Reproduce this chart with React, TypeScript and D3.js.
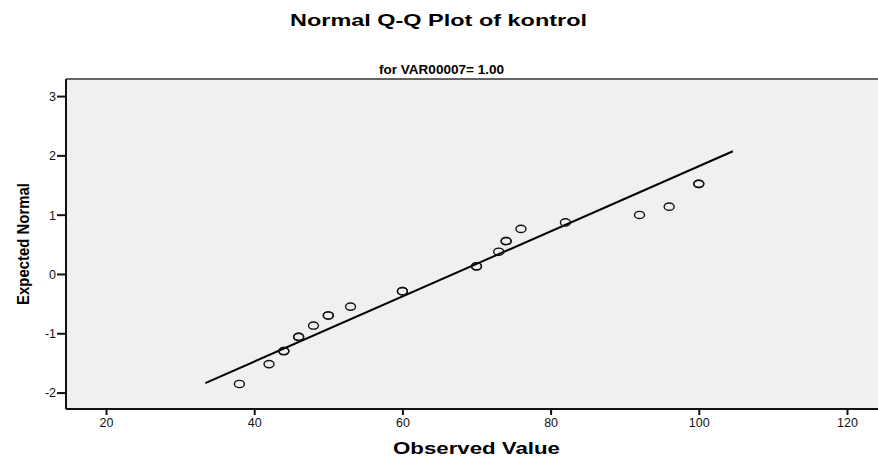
import React, { useEffect, useRef } from 'react';
import * as d3 from 'd3';

// observed values, expected normal, and how many cases sit on that spot
const observed = [38, 42, 44, 46, 48, 50, 53, 60, 70, 73, 74, 76, 82, 92, 96, 100];
const expected = [-1.855, -1.52, -1.3, -1.06, -0.87, -0.7, -0.55, -0.29, 0.13, 0.375, 0.555, 0.76, 0.87, 0.995, 1.135, 1.52];
const counts = [1, 1, 2, 2, 1, 2, 1, 2, 2, 1, 2, 1, 1, 1, 1, 2];

// reference line end points (observed, expected)
const refLineX = [33.4, 104.6];
const refLineY = [-1.84, 2.07];

const xTicks = [20, 40, 60, 80, 100, 120];
const yTicks = [-2, -1, 0, 1, 2, 3];

const App = () => {
  const svgRef = useRef<SVGSVGElement>(null);

  useEffect(() => {
    const width = 878;
    const height = 457;
    const plot = { left: 66, top: 79, right: 887, bottom: 409 };
    const font = '"Liberation Sans", Arial, sans-serif';

    const svg = d3.select(svgRef.current)
      .attr('width', width)
      .attr('height', height);
    svg.selectAll('*').remove();

    svg.append('rect')
      .attr('width', width)
      .attr('height', height)
      .attr('fill', '#ffffff');

    const x = d3.scaleLinear()
      .domain([14.6, 125.4])
      .range([plot.left, plot.right]);

    const y = d3.scaleLinear()
      .domain([3.288, -2.277])
      .range([plot.top, plot.bottom]);

    // plot background
    svg.append('rect')
      .attr('x', plot.left)
      .attr('y', plot.top)
      .attr('width', plot.right - plot.left)
      .attr('height', plot.bottom - plot.top)
      .attr('fill', '#f0f0f0');

    // titles
    svg.append('text')
      .attr('x', 438.5)
      .attr('y', 25.5)
      .attr('text-anchor', 'middle')
      .attr('font-family', font)
      .attr('font-weight', 'bold')
      .attr('font-size', 17)
      .attr('textLength', 297)
      .attr('lengthAdjust', 'spacingAndGlyphs')
      .text('Normal Q-Q Plot of kontrol');

    svg.append('text')
      .attr('x', 441.5)
      .attr('y', 73.5)
      .attr('text-anchor', 'middle')
      .attr('font-family', font)
      .attr('font-weight', 'bold')
      .attr('font-size', 12)
      .attr('textLength', 125)
      .attr('lengthAdjust', 'spacingAndGlyphs')
      .text('for VAR00007= 1.00');

    // axes
    const xAxis = svg.append('g')
      .attr('transform', `translate(0,${plot.bottom})`)
      .call(d3.axisBottom(x).tickValues(xTicks).tickSize(6).tickSizeOuter(0).tickFormat(d => String(d)));

    const yAxis = svg.append('g')
      .attr('transform', `translate(${plot.left},0)`)
      .call(d3.axisLeft(y).tickValues(yTicks).tickSize(9).tickSizeOuter(0).tickFormat(d => String(d)));

    [xAxis, yAxis].forEach(g => {
      g.select('.domain').remove();
      g.selectAll('line').attr('stroke', '#111').attr('stroke-width', 2);
      g.selectAll('text')
        .attr('font-family', font)
        .attr('font-size', 12.5)
        .attr('fill', '#111');
    });
    xAxis.selectAll('text').attr('dy', '1em').attr('y', 5);
    yAxis.selectAll('text').attr('x', -10).attr('dy', '0.35em');

    // frame
    svg.append('line')
      .attr('x1', plot.left).attr('x2', plot.right)
      .attr('y1', plot.top).attr('y2', plot.top)
      .attr('stroke', '#333').attr('stroke-width', 1.5);
    svg.append('line')
      .attr('x1', plot.left).attr('x2', plot.left)
      .attr('y1', plot.top).attr('y2', plot.bottom)
      .attr('stroke', '#111').attr('stroke-width', 2);
    svg.append('line')
      .attr('x1', plot.left).attr('x2', plot.right)
      .attr('y1', plot.bottom).attr('y2', plot.bottom)
      .attr('stroke', '#111').attr('stroke-width', 2);

    // axis titles
    svg.append('text')
      .attr('x', 476.5)
      .attr('y', 453.5)
      .attr('text-anchor', 'middle')
      .attr('font-family', font)
      .attr('font-weight', 'bold')
      .attr('font-size', 16.5)
      .attr('textLength', 167)
      .attr('lengthAdjust', 'spacingAndGlyphs')
      .text('Observed Value');

    svg.append('text')
      .attr('transform', `translate(29,${(plot.top + plot.bottom) / 2}) rotate(-90)`)
      .attr('text-anchor', 'middle')
      .attr('font-family', font)
      .attr('font-weight', 'bold')
      .attr('font-size', 17)
      .attr('textLength', 122)
      .attr('lengthAdjust', 'spacingAndGlyphs')
      .text('Expected Normal');

    // reference line
    const line = d3.line<number>()
      .x(d => x(refLineX[d]))
      .y(d => y(refLineY[d]));

    svg.append('path')
      .datum([0, 1])
      .attr('fill', 'none')
      .attr('stroke', '#000')
      .attr('stroke-width', 2)
      .attr('d', line);

    // points, tied cases drawn on top of each other
    const pts = observed.flatMap((v, i) => d3.range(counts[i]).map(() => ({ v, e: expected[i] })));
    svg.append('g')
      .selectAll('ellipse')
      .data(pts)
      .enter()
      .append('ellipse')
      .attr('cx', d => x(d.v))
      .attr('cy', d => y(d.e))
      .attr('rx', 5)
      .attr('ry', 3.6)
      .attr('fill', 'none')
      .attr('stroke', '#111')
      .attr('stroke-width', 1.4);
  }, []);

  return (
    <svg ref={svgRef} style={{ position: 'absolute', left: 0, top: 0 }}></svg>
  );
};

export default App;
